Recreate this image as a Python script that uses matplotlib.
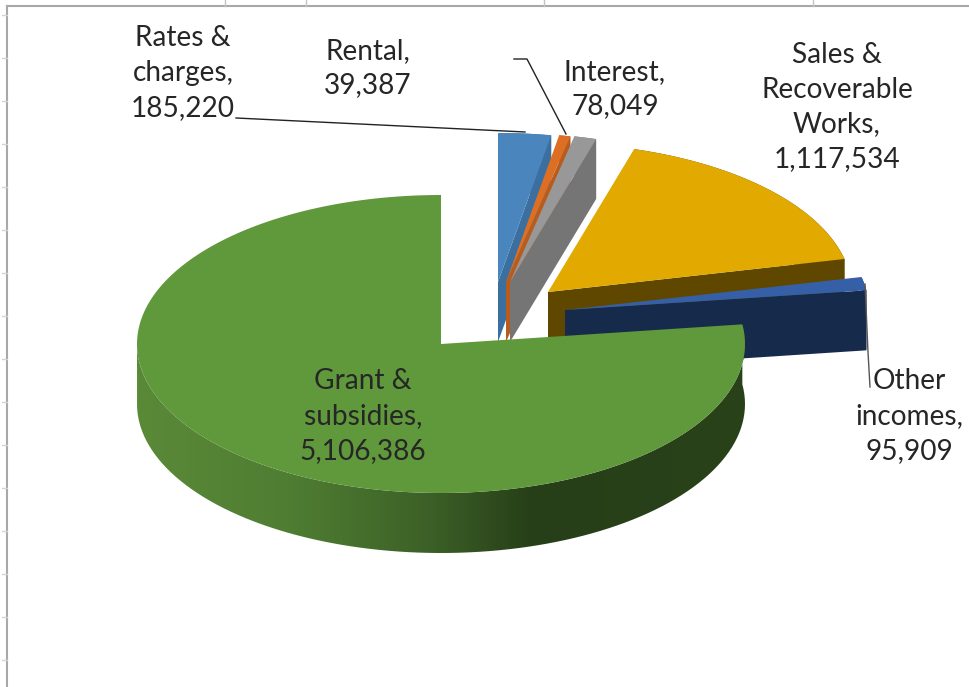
import matplotlib
matplotlib.use("Agg")
import matplotlib.pyplot as plt
import numpy as np
from matplotlib.colors import LinearSegmentedColormap
from matplotlib.patches import PathPatch, Polygon
from matplotlib.path import Path

plt.rcParams['font.family'] = ['Lato', 'DejaVu Sans']

names = ['Rates &\ncharges,', 'Rental,', 'Interest,', 'Sales &\nRecoverable\nWorks,',
         'Other\nincomes,', 'Grant &\nsubsidies,']
values = [185220, 39387, 78049, 1117534, 95909, 5106386]
top_colors = ['#4a86bd', '#dc6f24', '#989898', '#e2a900', '#3560a8', '#60983c']
side_colors = ['#3a6f9f', '#b85c1e', '#757575', '#5f4700', '#162a4b', '#3a5c24']

# how far each slice is pulled out of the pie, in pixels
pull_x = [57, 65, 69, 107, 124, 0]
pull_y = [-62, -62, -62, -52, -34, 0]
label_x = [183, 368, 615, 837, 909, 363]
label_y = [73, 68, 89, 107, 416, 416]

cx, cy = 441, 344
rx, ry = 304, 149
depth = 60

green_stops = [(0.0, '#5a8a38'), (0.25, '#4f7d32'), (0.47, '#3d6228'), (0.65, '#273f18'),
               (1.0, '#2a421a')]


def arc(a0, a1, ox, oy, dz=0):
    t = np.radians(np.linspace(a0, a1, 200))
    return np.column_stack([cx + ox + rx * np.cos(t), cy + oy - ry * np.sin(t) + dz])


fig = plt.figure(figsize=(9.7, 6.87), dpi=100)
ax = fig.add_axes([0, 0, 1, 1])

# sheet edge and the spreadsheet grid ticks behind the chart
ax.plot([7, 970], [6, 6], color='#a8a8a8', lw=1.5)
ax.plot([7, 7], [6, 687], color='#a8a8a8', lw=1.5)
for x in [225, 306, 544, 813]:
    ax.plot([x, x], [0, 6], color='#c4c4c4', lw=1)
for y in np.arange(15, 680, 43):
    ax.plot([2, 7], [y, y], color='#d4d4d4', lw=1)

# slices run clockwise from twelve o'clock, furthest back drawn first
angles = 90 - np.cumsum([0] + values) / sum(values) * 360
for i, v in enumerate(values):
    a0, a1 = angles[i], angles[i + 1]
    ox, oy = pull_x[i], pull_y[i]
    top = arc(a0, a1, ox, oy)
    low = arc(a0, a1, ox, oy, depth)
    apex = np.array([cx + ox, cy + oy])
    z = 2 + i * 2
    if i < 5:
        # end wall and rim of the small pulled out slices
        wall = np.vstack([apex, top[-1], low[-1], apex + [0, depth]])
        ax.add_patch(Polygon(wall, closed=True, fc=side_colors[i], ec='none', zorder=z))
        rim = np.vstack([top, low[::-1]])
        ax.add_patch(Polygon(rim, closed=True, fc=side_colors[i], ec='none', zorder=z))
    else:
        # the big slice has a shaded outer wall, only its front half shows
        front = arc(a0, -180, ox, oy)
        front_low = arc(a0, -180, ox, oy, depth)
        rim = np.vstack([front, front_low[::-1]])
        patch = PathPatch(Path(np.vstack([rim, rim[0]])), fc='none', ec='none', zorder=z)
        ax.add_patch(patch)
        cmap = LinearSegmentedColormap.from_list('wall', green_stops)
        im = ax.imshow(np.linspace(0, 1, 400)[None, :], cmap=cmap, aspect='auto',
                       extent=[rim[:, 0].min(), rim[:, 0].max(), cy + depth + ry, cy - 30],
                       zorder=z)
        im.set_clip_path(patch)
    face = np.vstack([apex, top])
    ax.add_patch(Polygon(face, closed=True, fc=top_colors[i], ec='none', zorder=z + 1))

ax.set_xlim(0, 970)
ax.set_ylim(687, 0)
ax.axis('off')

# leader lines
ax.plot([236, 525], [118, 132], color='#222222', lw=1, zorder=20)
ax.plot([514, 527, 566], [59, 59, 134], color='#222222', lw=1, zorder=20)
ax.plot([865, 868, 870], [284, 352, 387], color='#555555', lw=1, zorder=20)

for name, v, x, y in zip(names, values, label_x, label_y):
    ax.text(x, y, f'{name}\n{v:,}', ha='center', va='center', fontsize=20.2, color='#262626',
            linespacing=1.42, zorder=30)

fig.savefig('out.png', dpi=100)
